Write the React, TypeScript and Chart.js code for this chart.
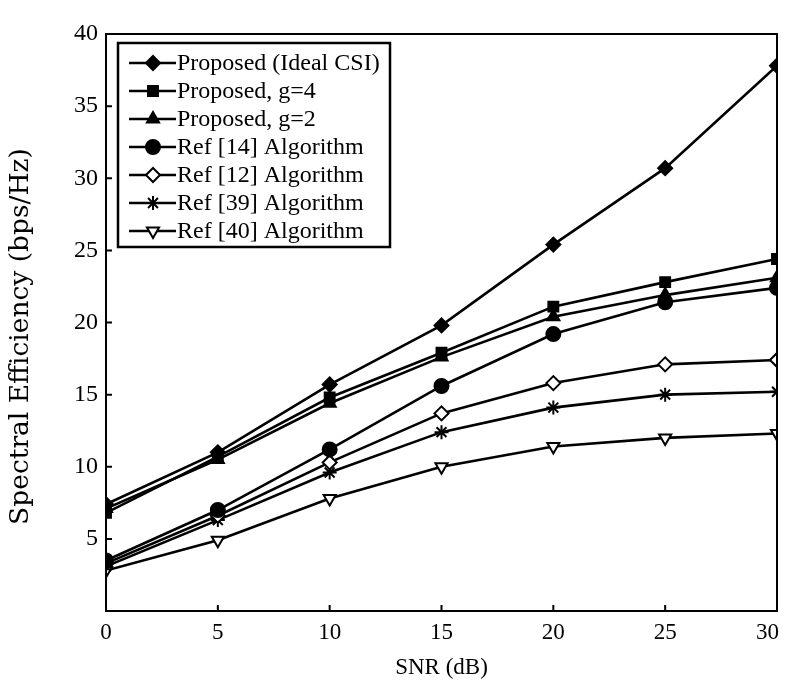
import React, { useEffect, useRef } from "react";
import { Chart, registerables } from "chart.js";
import { drawPoint } from "chart.js/helpers";

Chart.register(...registerables);

const snr = [0, 5, 10, 15, 20, 25, 30];
const idealCsi = [7.4, 11.0, 15.7, 19.8, 25.4, 30.7, 37.8];
const proposedG4 = [6.8, 10.7, 14.8, 17.9, 21.1, 22.8, 24.4];
const proposedG2 = [7.1, 10.5, 14.4, 17.6, 20.4, 21.9, 23.1];
const ref14 = [3.5, 7.0, 11.2, 15.6, 19.2, 21.4, 22.4];
const ref12 = [3.3, 6.6, 10.3, 13.7, 15.8, 17.1, 17.4];
const ref39 = [3.1, 6.3, 9.6, 12.4, 14.1, 15.0, 15.2];
const ref40 = [2.8, 4.9, 7.8, 10.0, 11.4, 12.0, 12.3];

const seriesLabels = [
  "Proposed (Ideal CSI)",
  "Proposed, g=4",
  "Proposed, g=2",
  "Ref [14] Algorithm",
  "Ref [12] Algorithm",
  "Ref [39] Algorithm",
  "Ref [40] Algorithm",
];
const seriesValues = [idealCsi, proposedG4, proposedG2, ref14, ref12, ref39, ref40];
const seriesStyles: any[] = [
  { pointStyle: "rectRot", fill: "#000", rot: 0, r: 7 },
  { pointStyle: "rect", fill: "#000", rot: 0, r: 7 },
  { pointStyle: "triangle", fill: "#000", rot: 0, r: 7 },
  { pointStyle: "circle", fill: "#000", rot: 0, r: 7 },
  { pointStyle: "rectRot", fill: "#fff", rot: 0, r: 7 },
  { pointStyle: "star", fill: "#000", rot: 0, r: 7 },
  { pointStyle: "triangle", fill: "#fff", rot: 180, r: 7 },
];

const xTicks = [0, 5, 10, 15, 20, 25, 30];
const yTicks = [0, 5, 10, 15, 20, 25, 30, 35, 40];
const xTitle = "SNR (dB)";
const yTitle = "Spectral Efficiency (bps/Hz)";

const SERIF = "'Liberation Serif', 'Times New Roman', serif";
const VISIBLE_W = 771;

const framePlugin = {
  id: "frameTicks",
  afterDatasetsDraw(chart: any) {
    const { ctx, chartArea: a, scales } = chart;
    ctx.save();
    ctx.strokeStyle = "#000";
    ctx.lineWidth = 2;
    ctx.strokeRect(a.left, a.top, a.right - a.left, a.bottom - a.top);
    ctx.beginPath();
    xTicks.forEach((v) => {
      const px = scales.x.getPixelForValue(v);
      ctx.moveTo(px, a.bottom);
      ctx.lineTo(px, a.bottom - 6);
    });
    yTicks.forEach((v) => {
      const py = scales.y.getPixelForValue(v);
      ctx.moveTo(a.left, py);
      ctx.lineTo(a.left + 6, py);
    });
    ctx.stroke();

    // x tick labels (kept inside the visible area)
    ctx.font = "23px " + SERIF;
    ctx.fillStyle = "#000";
    ctx.textAlign = "center";
    ctx.textBaseline = "middle";
    xTicks.forEach((v) => {
      const label = String(v);
      const w = ctx.measureText(label).width;
      let px = scales.x.getPixelForValue(v);
      px = Math.min(px, VISIBLE_W - w / 2);
      ctx.fillText(label, px, a.bottom + 22);
    });

    // y axis title
    ctx.save();
    ctx.translate(13, (a.top + a.bottom) / 2 + 14);
    ctx.rotate(-Math.PI / 2);
    ctx.font = "26.5px 'DejaVu Serif', serif";
    ctx.textAlign = "center";
    ctx.textBaseline = "middle";
    ctx.fillText(yTitle, 0, 0);
    ctx.restore();

    // legend box inside plot
    const bx = a.left + 12;
    const by = a.top + 9;
    const bw = 272;
    const bh = 204;
    ctx.lineWidth = 2.5;
    ctx.strokeRect(bx, by, bw, bh);
    const rowH = 28;
    ctx.font = "24px " + SERIF;
    ctx.textAlign = "left";
    ctx.textBaseline = "middle";
    chart.data.datasets.forEach((ds: any, i: number) => {
      const cy = by + 20 + i * rowH;
      ctx.strokeStyle = "#000";
      ctx.lineWidth = 2.5;
      ctx.beginPath();
      ctx.moveTo(bx + 11, cy);
      ctx.lineTo(bx + 58, cy);
      ctx.stroke();
      ctx.fillStyle = ds.pointBackgroundColor;
      ctx.lineWidth = 2;
      drawPoint(ctx, { pointStyle: ds.pointStyle, rotation: ds.pointRotation, radius: ds.pointRadius, borderWidth: 2 }, bx + 35, cy);
      ctx.fillStyle = "#000";
      ctx.fillText(ds.label, bx + 59, cy + 1);
    });
    ctx.restore();
  },
};

export default function App() {
  const ref = useRef<HTMLCanvasElement>(null);
  useEffect(() => {
    if (!ref.current) return;
    const datasets = seriesLabels.map((label, i) => ({
      label,
      data: snr.map((x, j) => ({ x, y: seriesValues[i][j] })),
      borderColor: "#000",
      borderWidth: 2.6,
      pointStyle: seriesStyles[i].pointStyle,
      pointRotation: seriesStyles[i].rot,
      pointRadius: seriesStyles[i].r,
      pointBackgroundColor: seriesStyles[i].fill,
      pointBorderColor: "#000",
      pointBorderWidth: 2,
      tension: 0,
      fill: false,
    }));
    const chart = new Chart(ref.current, {
      type: "line",
      data: { datasets },
      options: {
        responsive: false,
        animation: false,
        layout: { padding: { top: 26, right: 10, left: 0, bottom: 0 } },
        plugins: { legend: { display: false }, tooltip: { enabled: false } },
        scales: {
          x: {
            type: "linear",
            min: 0,
            max: 30,
            afterBuildTicks: (s: any) => { s.ticks = xTicks.map((v) => ({ value: v })); },
            afterFit: (s: any) => { s.height = 76; s.paddingLeft = 0; s.paddingRight = 0; },
            grid: { display: false, drawTicks: false },
            border: { display: false },
            ticks: { display: false },
            title: { display: true, text: xTitle, color: "#000", padding: { top: 0, bottom: 5 }, font: { family: SERIF, size: 23 } },
          },
          y: {
            type: "linear",
            min: 0,
            max: 40,
            afterBuildTicks: (s: any) => { s.ticks = yTicks.map((v) => ({ value: v })); },
            afterFit: (s: any) => { s.width = 98; s.paddingTop = 0; s.paddingBottom = 0; },
            grid: { display: false, drawTicks: false },
            border: { display: false },
            ticks: {
              color: "#000",
              padding: 8,
              font: { family: SERIF, size: 24 },
              callback: (v: any) => (v === 0 ? "" : String(v)),
            },
            title: { display: false },
          },
        },
      },
      plugins: [framePlugin],
    });
    return () => chart.destroy();
  }, []);
  return (
    <div style={{ width: 779, height: 679 }}>
      <canvas ref={ref} width={779} height={679} style={{ display: "block" }} />
    </div>
  );
}
